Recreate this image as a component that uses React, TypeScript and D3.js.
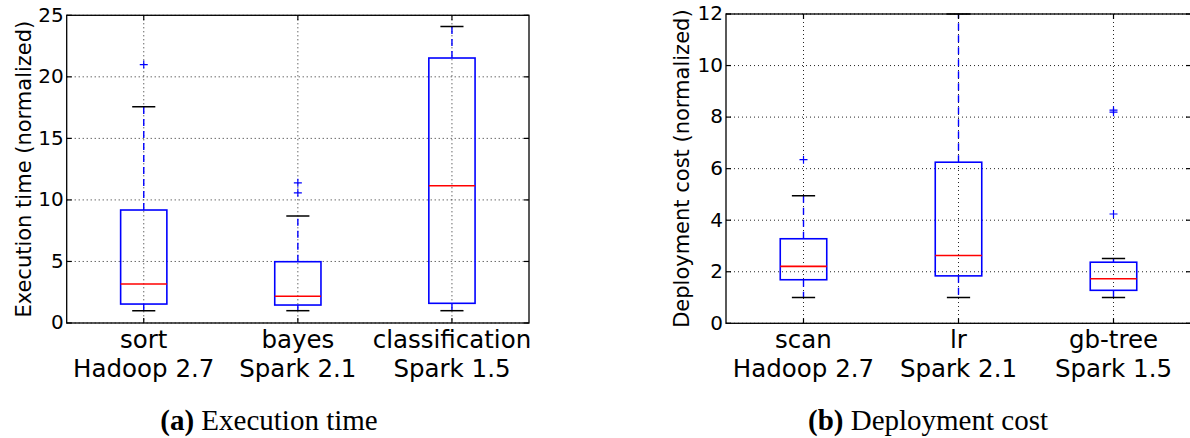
import React from "react";
import * as d3 from "d3";

// ---- Panel (a): Execution time ----
const execApps = ["sort", "bayes", "classification"];
const execPlatforms = ["Hadoop 2.7", "Spark 2.1", "Spark 1.5"];
const execLow = [1.0, 1.0, 1.0];
const execQ1 = [1.54, 1.46, 1.6];
const execMedian = [3.17, 2.17, 11.15];
const execQ3 = [9.18, 4.98, 21.53];
const execHigh = [17.56, 8.7, 24.1];
const execOutliers = [[21.0], [11.39, 10.58], []];
const execTicks = [0, 5, 10, 15, 20, 25];

// ---- Panel (b): Deployment cost ----
const costApps = ["scan", "lr", "gb-tree"];
const costPlatforms = ["Hadoop 2.7", "Spark 2.1", "Spark 1.5"];
const costLow = [1.0, 1.0, 1.0];
const costQ1 = [1.69, 1.84, 1.28];
const costMedian = [2.21, 2.63, 1.73];
const costQ3 = [3.28, 6.25, 2.37];
const costHigh = [4.95, 12.0, 2.51];
const costOutliers = [[6.35], [], [4.24, 8.19, 8.27]];
const costTicks = [0, 2, 4, 6, 8, 10, 12];

type PanelProps = {
  left: number;
  right: number;
  top: number;
  bottom: number;
  ymax: number;
  ticks: number[];
  apps: string[];
  platforms: string[];
  low: number[];
  q1: number[];
  med: number[];
  q3: number[];
  high: number[];
  outliers: number[][];
  ylabel: string;
  labelX: number;
  clipId: string;
};

const SANS = "'DejaVu Sans', sans-serif";

function Panel(p: PanelProps) {
  const x = d3.scaleLinear().domain([0.5, 3.5]).range([p.left, p.right]);
  const y = d3.scaleLinear().domain([0, p.ymax]).range([p.bottom, p.top]);
  const idx = p.apps.map((_, i) => i + 1);
  const boxHalf = 0.15;
  const capHalf = 0.075;
  const tickLen = 5;
  return (
    <g>
      <defs>
        <clipPath id={p.clipId}>
          <rect x={p.left} y={p.top - 1} width={p.right - p.left} height={p.bottom - p.top + 2} />
        </clipPath>
      </defs>
      {/* grid */}
      <g stroke="#000" strokeWidth={1} strokeDasharray="1,3" opacity={0.85}>
        {p.ticks.map((t) => (
          <line key={"gy" + t} x1={p.left} x2={p.right} y1={y(t)} y2={y(t)} />
        ))}
        {idx.map((i) => (
          <line key={"gx" + i} x1={x(i)} x2={x(i)} y1={p.top} y2={p.bottom} />
        ))}
      </g>
      <g clipPath={`url(#${p.clipId})`}>
        {idx.map((i, k) => {
          const cx = x(i);
          const bx0 = x(i - boxHalf);
          const bx1 = x(i + boxHalf);
          return (
            <g key={"b" + i}>
              {/* whiskers */}
              <line x1={cx} x2={cx} y1={y(p.q3[k])} y2={y(p.high[k])} stroke="#0000ff" strokeWidth={1.4} strokeDasharray="7,5" />
              <line x1={cx} x2={cx} y1={y(p.q1[k])} y2={y(p.low[k])} stroke="#0000ff" strokeWidth={1.4} strokeDasharray="7,5" />
              {/* caps */}
              <line x1={x(i - capHalf)} x2={x(i + capHalf)} y1={y(p.high[k])} y2={y(p.high[k])} stroke="#000" strokeWidth={1.5} />
              <line x1={x(i - capHalf)} x2={x(i + capHalf)} y1={y(p.low[k])} y2={y(p.low[k])} stroke="#000" strokeWidth={1.5} />
              {/* box */}
              <rect x={bx0} y={y(p.q3[k])} width={bx1 - bx0} height={y(p.q1[k]) - y(p.q3[k])} fill="none" stroke="#0000ff" strokeWidth={1.6} />
              {/* median */}
              <line x1={bx0} x2={bx1} y1={y(p.med[k])} y2={y(p.med[k])} stroke="#ff0000" strokeWidth={1.6} />
              {/* outliers */}
              {p.outliers[k].map((v, j) => (
                <path key={j} d={`M${cx - 4},${y(v)}H${cx + 4}M${cx},${y(v) - 4}V${y(v) + 4}`} stroke="#0000ff" strokeWidth={1.2} fill="none" />
              ))}
            </g>
          );
        })}
      </g>
      {/* spines */}
      <rect x={p.left} y={p.top} width={p.right - p.left} height={p.bottom - p.top} fill="none" stroke="#000" strokeWidth={1.3} />
      {/* ticks inward */}
      <g stroke="#000" strokeWidth={1.2}>
        {p.ticks.map((t) => (
          <g key={"t" + t}>
            <line x1={p.left} x2={p.left + tickLen} y1={y(t)} y2={y(t)} />
            <line x1={p.right} x2={p.right - tickLen} y1={y(t)} y2={y(t)} />
          </g>
        ))}
        {idx.map((i) => (
          <g key={"tx" + i}>
            <line x1={x(i)} x2={x(i)} y1={p.bottom} y2={p.bottom - tickLen} />
            <line x1={x(i)} x2={x(i)} y1={p.top} y2={p.top + tickLen} />
          </g>
        ))}
      </g>
      {/* y tick labels */}
      <g fontFamily={SANS} fontSize={20} fill="#000" textAnchor="end">
        {p.ticks.map((t) => (
          <text key={"l" + t} x={p.left - 3} y={y(t) + 6.3}>
            {t}
          </text>
        ))}
      </g>
      {/* x tick labels */}
      <g fontFamily={SANS} fontSize={24.5} fill="#000" textAnchor="middle">
        {idx.map((i, k) => (
          <g key={"xl" + i}>
            <text x={x(i)} y={347.5}>{p.apps[k]}</text>
            <text x={x(i)} y={376.5}>{p.platforms[k]}</text>
          </g>
        ))}
      </g>
      {/* y label */}
      <text
        transform={`translate(${p.labelX},${(p.top + p.bottom) / 2}) rotate(-90)`}
        textAnchor="middle"
        fontFamily={SANS}
        fontSize={21}
        fill="#000"
      >
        {p.ylabel}
      </text>
    </g>
  );
}

export default function App() {
  return (
    <svg
      width={1190}
      height={438}
      style={{ position: "absolute", left: 0, top: 0, background: "#fff" }}
    >
      <rect width={1190} height={438} fill="#fff" />
      <Panel
        left={66.7}
        right={529}
        top={15.3}
        bottom={323}
        ymax={25}
        ticks={execTicks}
        apps={execApps}
        platforms={execPlatforms}
        low={execLow}
        q1={execQ1}
        med={execMedian}
        q3={execQ3}
        high={execHigh}
        outliers={execOutliers}
        ylabel="Execution time (normalized)"
        labelX={30.5}
        clipId="clipA"
      />
      <Panel
        left={726}
        right={1191}
        top={14}
        bottom={323.3}
        ymax={12}
        ticks={costTicks}
        apps={costApps}
        platforms={costPlatforms}
        low={costLow}
        q1={costQ1}
        med={costMedian}
        q3={costQ3}
        high={costHigh}
        outliers={costOutliers}
        ylabel="Deployment cost (normalized)"
        labelX={689}
        clipId="clipB"
      />
      <g fontFamily="'Liberation Serif', serif" fontSize={29} fill="#000" textAnchor="middle">
        <text x={269} y={430}>
          <tspan fontWeight="bold">(a)</tspan> Execution time
        </text>
        <text x={928} y={430}>
          <tspan fontWeight="bold">(b)</tspan> Deployment cost
        </text>
      </g>
    </svg>
  );
}
